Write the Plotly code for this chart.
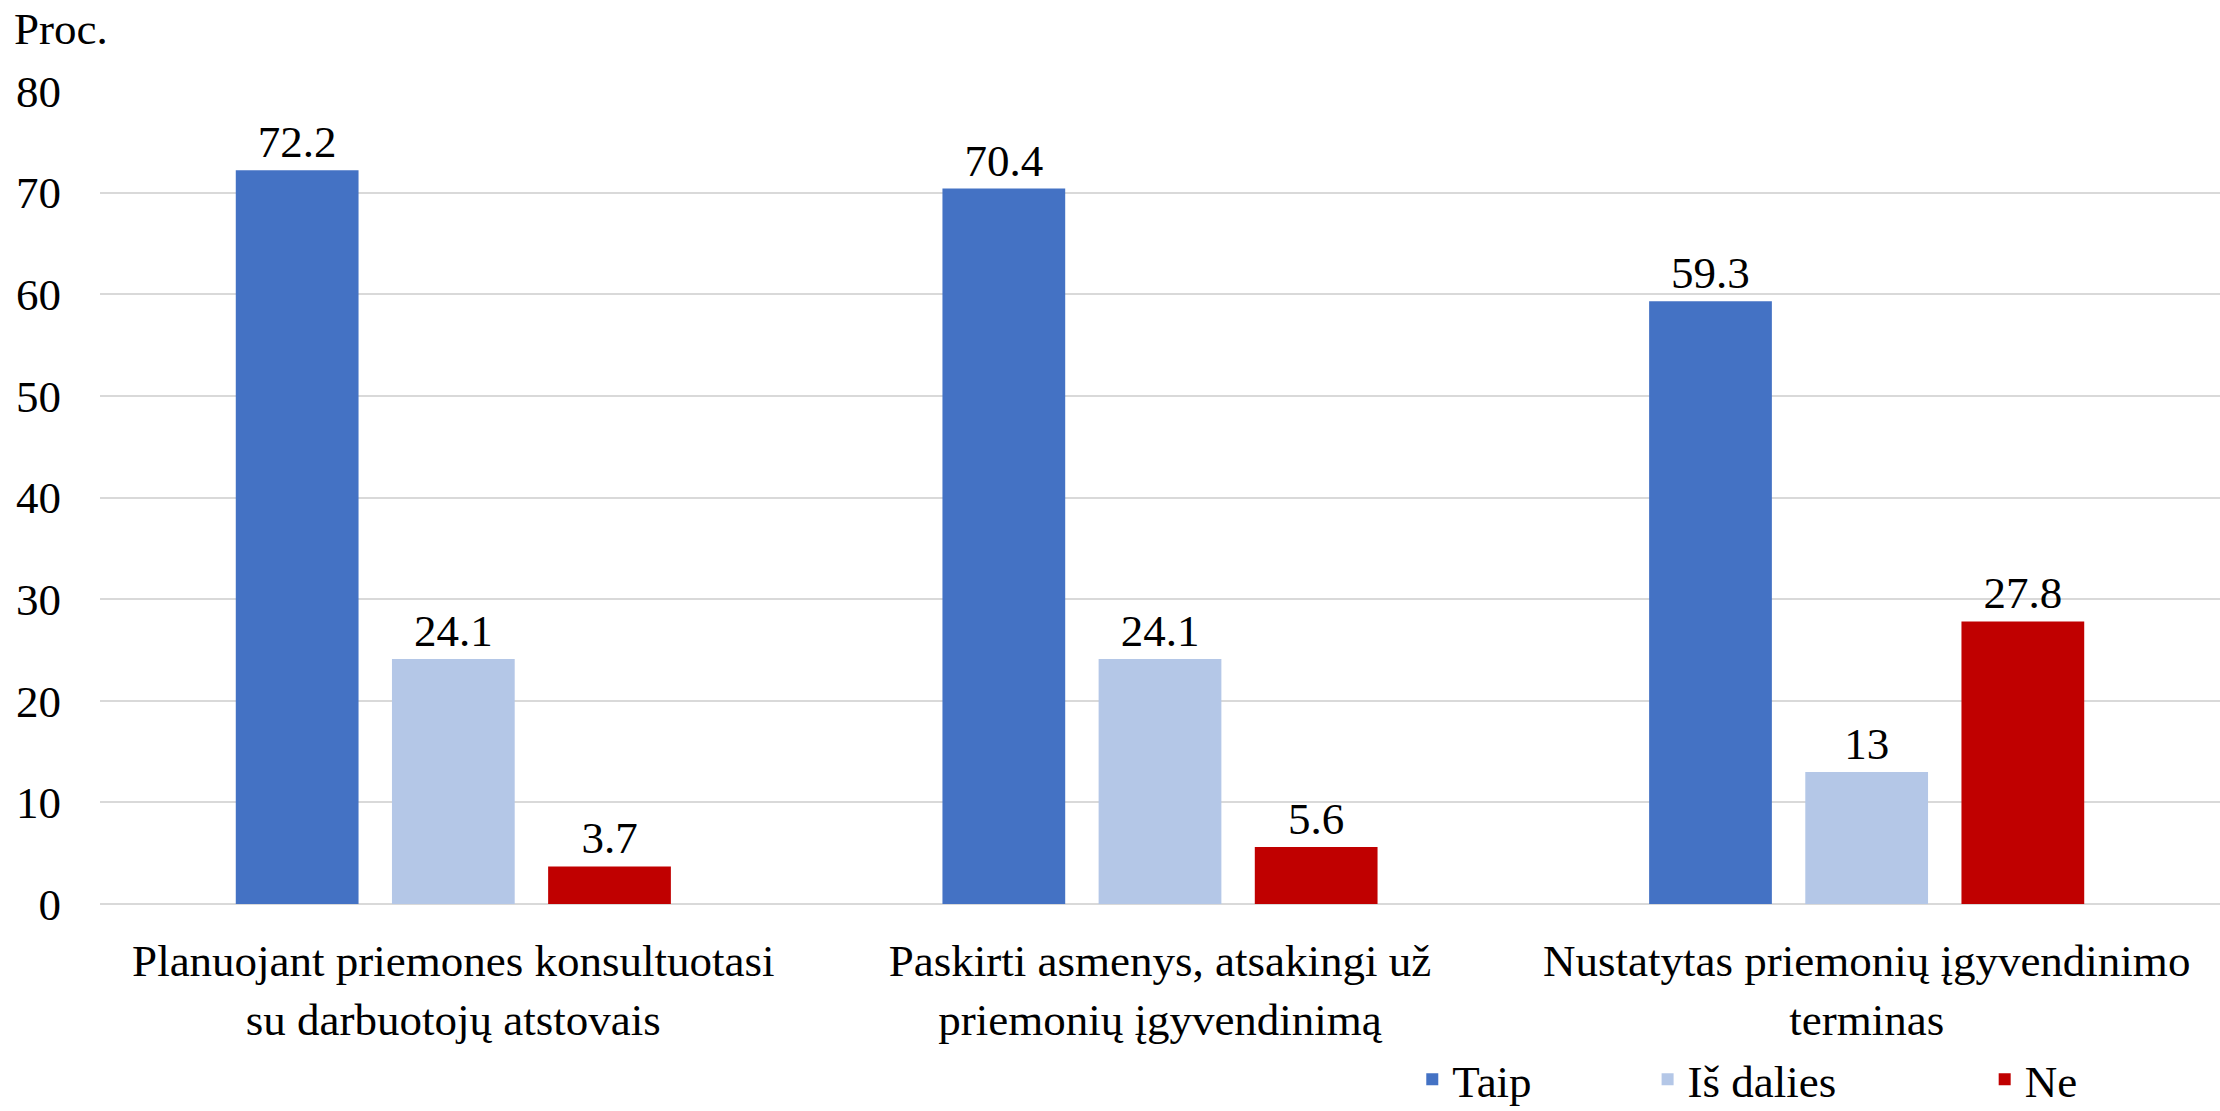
import plotly.graph_objects as go

categories = [
    "Planuojant priemones konsultuotasi<br>su darbuotojų atstovais",
    "Paskirti asmenys, atsakingi už<br>priemonių įgyvendinimą",
    "Nustatytas priemonių įgyvendinimo<br>terminas",
]
series_names = ["Taip", "Iš dalies", "Ne"]
taip = [72.2, 70.4, 59.3]
is_dalies = [24.1, 24.1, 13]
ne = [3.7, 5.6, 27.8]
y_ticks = [0, 10, 20, 30, 40, 50, 60, 70, 80]

colors = ["#4472C4", "#B4C7E7", "#C00000"]
FONT = "Liberation Serif, Tinos, Times New Roman, serif"
FS = 45

fig = go.Figure()
legend_ids = ["legend", "legend2", "legend3"]
for name, vals, col, lg in zip(series_names, [taip, is_dalies, ne], colors, legend_ids):
    fig.add_trace(go.Bar(
        name=name, x=categories, y=vals, marker_color=col,
        text=[f"{v:g}" for v in vals], textposition="outside",
        textfont=dict(family=FONT, size=FS, color="#000000"),
        cliponaxis=False, legend=lg,
    ))

leg_common = dict(orientation="h", yanchor="middle", xanchor="left",
                  font=dict(family=FONT, size=FS, color="#000000"),
                  bgcolor="rgba(0,0,0,0)")
fig.update_layout(
    template="none",
    width=2220, height=1111,
    margin=dict(l=100, r=0, t=91, b=207, autoexpand=False),
    paper_bgcolor="white", plot_bgcolor="white",
    barmode="group", bargap=0.337, bargroupgap=0.214,
    font=dict(family=FONT, size=FS, color="#000000"),
    legend=dict(x=0.619, y=-0.216, **leg_common),
    legend2=dict(x=0.730, y=-0.216, **leg_common),
    legend3=dict(x=0.889, y=-0.216, **leg_common),
    xaxis=dict(showgrid=False, showline=False, ticks="", automargin=False,
               tickfont=dict(family=FONT, size=FS, color="#000000"),
               ticklabelstandoff=26),
    yaxis=dict(range=[0, 80], tickvals=y_ticks, showgrid=True, automargin=False,
               gridcolor="#D9D9D9", gridwidth=2, zeroline=True,
               zerolinecolor="#D9D9D9", zerolinewidth=2, showline=False,
               ticks="", tickfont=dict(family=FONT, size=FS, color="#000000"),
               ticklabelstandoff=38),
    showlegend=True,
    annotations=[dict(text="Proc.", xref="paper", yref="paper",
                      x=-0.0415, y=1.076, xanchor="left", yanchor="middle",
                      showarrow=False, font=dict(family=FONT, size=FS, color="#000000"))],
)

fig.write_html("out.html", config={"displayModeBar": False},
               post_script="document.body.style.margin='0';")
